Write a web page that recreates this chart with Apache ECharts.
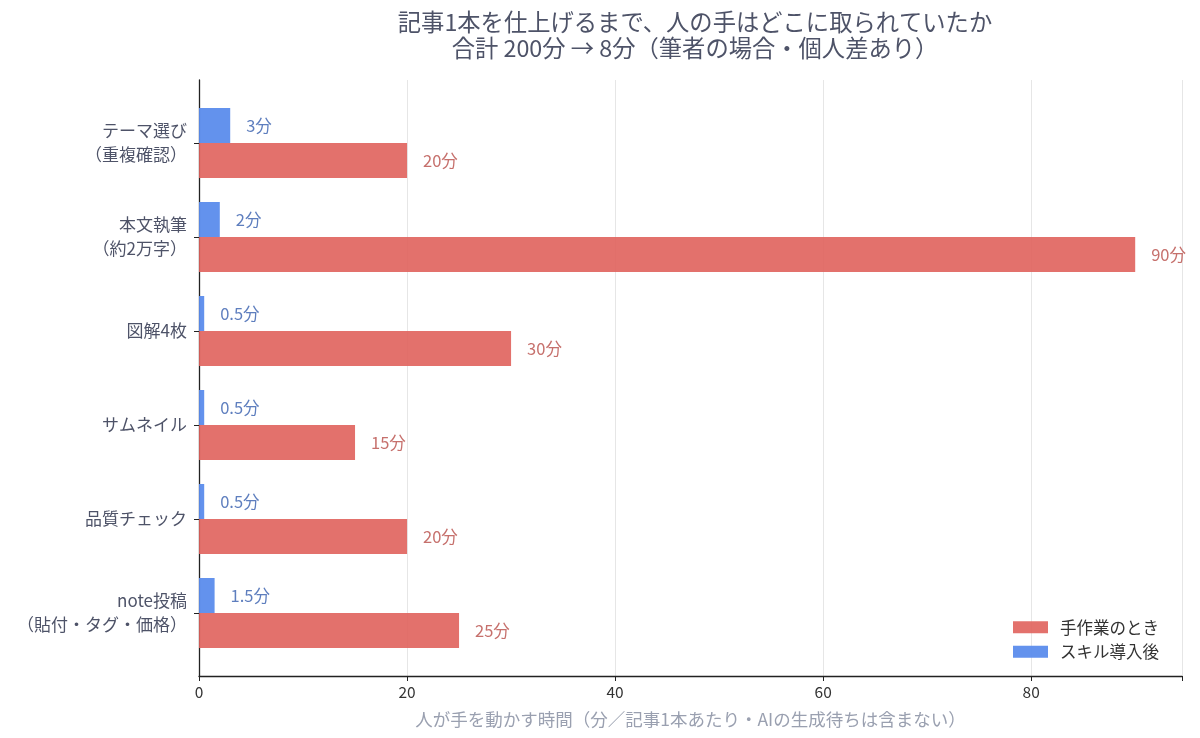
<!DOCTYPE html>
<html><head><meta charset="utf-8">
<script src="https://cdn.jsdelivr.net/npm/echarts@6/dist/echarts.min.js"></script>
<style>html,body{margin:0;padding:0;background:#fff}#c{width:1200px;height:738px}</style>
</head><body><div id="c"></div>
<script>
const categories = ['テーマ選び\n（重複確認）','本文執筆\n（約2万字）','図解4枚','サムネイル','品質チェック','note投稿\n（貼付・タグ・価格）'];
const manualValues = [20, 90, 30, 15, 20, 25];
const skillValues = [3, 2, 0.5, 0.5, 0.5, 1.5];
const xTicks = [0, 20, 40, 60, 80];
const titleLines = ['記事1本を仕上げるまで、人の手はどこに取られていたか','合計 200分 → 8分（筆者の場合・個人差あり）'];
const xName = '人が手を動かす時間（分／記事1本あたり・AIの生成待ちは含まない）';
const F = '"Noto Sans CJK JP", "Noto Sans", sans-serif';
const X_MAX = 94.5;
const chart = echarts.init(document.getElementById('c'));
chart.setOption({
  animation: false,
  textStyle: {fontFamily: F},
  title: {text: titleLines.join('\n'), left: 690, textAlign: 'center', top: 4,
    textStyle: {fontFamily: F, fontSize: 23.3, fontWeight: 'normal', color: '#4e5368', lineHeight: 26}},
  grid: [
    {left: 199, right: 18, top: 80, bottom: 62, containLabel: false},
    {left: 199, right: 18, top: 96, bottom: 78, containLabel: false}
  ],
  legend: {orient: 'vertical', right: 36, bottom: 73, itemWidth: 35, itemHeight: 12, itemGap: 8,
    data: ['手作業のとき','スキル導入後'],
    textStyle: {fontFamily: F, fontSize: 16.5, color: '#333', padding: [0,0,0,7]}, icon: 'rect'},
  xAxis: [
    {type: 'value', gridIndex: 0, min: 0, max: X_MAX, interval: 20,
      name: xName, nameLocation: 'middle', nameGap: 35,
      nameTextStyle: {fontFamily: F, fontSize: 17.5, color: '#9aa0b0'},
      axisLine: {show: true, lineStyle: {color: '#222', width: 1.3}},
      axisTick: {show: true, length: 5, lineStyle: {color: '#222'}},
      axisLabel: {fontFamily: F, fontSize: 15.5, color: '#333', margin: 8,
        formatter: v => xTicks.includes(v) ? String(v) : ''},
      splitLine: {show: true, lineStyle: {color: '#e6e6e6', width: 1}}},
    {type: 'value', gridIndex: 1, min: 0, max: X_MAX, show: false}
  ],
  yAxis: [
    {type: 'value', gridIndex: 0, min: 0, max: 1,
      axisLine: {show: true, lineStyle: {color: '#222', width: 1.3}},
      axisTick: {show: false}, axisLabel: {show: false}, splitLine: {show: false}},
    {type: 'category', gridIndex: 1, data: categories, inverse: true,
      axisLine: {show: false},
      axisTick: {show: true, alignWithLabel: true, length: 5, lineStyle: {color: '#222'}},
      axisLabel: {fontFamily: F, fontSize: 17, color: '#4e5368', margin: 12, lineHeight: 24, align: 'right'}}
  ],
  series: [
    {name: 'スキル導入後', type: 'bar', xAxisIndex: 1, yAxisIndex: 1, data: skillValues, barWidth: 35, barGap: '0%',
      itemStyle: {color: '#5b8cec', opacity: 0.95},
      label: {show: true, position: 'right', distance: 16, fontFamily: F, fontSize: 16.5, color: '#5577bb',
        formatter: p => p.value + '分'}},
    {name: '手作業のとき', type: 'bar', xAxisIndex: 1, yAxisIndex: 1, data: manualValues, barWidth: 35, barGap: '0%',
      itemStyle: {color: '#e0625c', opacity: 0.9},
      label: {show: true, position: 'right', distance: 16, fontFamily: F, fontSize: 16.5, color: '#c0605c',
        formatter: p => p.value + '分'}}
  ]
});
</script></body></html>
